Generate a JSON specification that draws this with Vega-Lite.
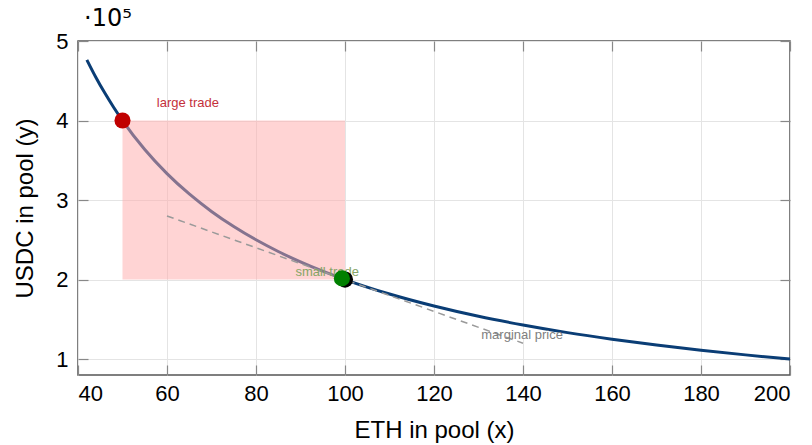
{
  "$schema": "https://vega.github.io/schema/vega-lite/v6.json",
  "width": 712,
  "height": 334,
  "autosize": {"type": "none"},
  "padding": {"left": 78, "top": 41, "right": 22, "bottom": 70},
  "title": {"text": "·10⁵", "anchor": "start", "frame": "group", "offset": -1, "dx": 6, "fontSize": 24, "font": "DejaVu Sans", "fontWeight": "normal", "color": "#000"},
  "config": {
    "view": {"stroke": "#555555", "strokeWidth": 1.5},
    "font": "Liberation Sans",
    "axis": {"labelFont": "Liberation Sans", "titleFont": "Liberation Sans", "labelFontSize": 22, "titleFontSize": 24, "titleFontWeight": "normal", "labelColor": "#000", "titleColor": "#000", "gridColor": "#e4e4e4", "gridWidth": 1, "tickColor": "#888888", "tickSize": -10, "tickWidth": 1.2, "domain": false}
  },
  "layer": [
    {
      "data": {"values": [
        {"x": 42, "y": 4.762}, {"x": 44, "y": 4.545}, {"x": 46, "y": 4.348}, {"x": 48, "y": 4.167},
        {"x": 50, "y": 4.0}, {"x": 55, "y": 3.636}, {"x": 60, "y": 3.333}, {"x": 65, "y": 3.077},
        {"x": 70, "y": 2.857}, {"x": 75, "y": 2.667}, {"x": 80, "y": 2.5}, {"x": 85, "y": 2.353},
        {"x": 90, "y": 2.222}, {"x": 95, "y": 2.105}, {"x": 100, "y": 2.0}, {"x": 110, "y": 1.818},
        {"x": 120, "y": 1.667}, {"x": 130, "y": 1.538}, {"x": 140, "y": 1.429}, {"x": 150, "y": 1.333},
        {"x": 160, "y": 1.25}, {"x": 170, "y": 1.176}, {"x": 180, "y": 1.111}, {"x": 190, "y": 1.053},
        {"x": 200, "y": 1.0}
      ]},
      "mark": {"type": "line", "color": "#0a3d75", "strokeWidth": 3, "interpolate": "monotone"},
      "encoding": {
        "x": {"field": "x", "type": "quantitative", "scale": {"domain": [40, 200], "nice": false, "zero": false},
              "axis": {"orient": "bottom", "title": "ETH in pool (x)", "values": [40, 60, 80, 100, 120, 140, 160, 180, 200], "labelPadding": 18, "titlePadding": 14}},
        "y": {"field": "y", "type": "quantitative", "scale": {"domain": [0.8, 5], "nice": false, "zero": false},
              "axis": {"orient": "left", "title": "USDC in pool (y)", "values": [1, 2, 3, 4, 5], "format": "d", "labelPadding": 20, "titlePadding": 18}}
      }
    },
    {
      "data": {"values": [{"x1": 50, "x2": 100, "y1": 2, "y2": 4}]},
      "mark": {"type": "rect", "fill": "#ffa9a9", "opacity": 0.5},
      "encoding": {
        "x": {"field": "x1", "type": "quantitative", "axis": null},
        "x2": {"field": "x2"},
        "y": {"field": "y1", "type": "quantitative", "axis": null},
        "y2": {"field": "y2"}
      }
    },
    {
      "data": {"values": [{"x": 60, "y": 2.8}, {"x": 140, "y": 1.2}]},
      "mark": {"type": "line", "color": "#9a9a9a", "strokeWidth": 1.5, "strokeDash": [7, 5]},
      "encoding": {
        "x": {"field": "x", "type": "quantitative", "axis": {"orient": "top", "labels": false, "title": null, "grid": false, "values": [40, 60, 80, 100, 120, 140, 160, 180, 200]}},
        "y": {"field": "y", "type": "quantitative", "axis": {"orient": "right", "labels": false, "title": null, "grid": false, "values": [1, 2, 3, 4, 5]}}
      }
    },
    {
      "data": {"values": [
        {"x": 64.7, "y": 4.22, "label": "large trade", "c": "#c4303a"},
        {"x": 96, "y": 2.09, "label": "small trade", "c": "#86a566"},
        {"x": 139.8, "y": 1.3, "label": "marginal price", "c": "#808080"}
      ]},
      "mark": {"type": "text", "fontSize": 13, "font": "Liberation Sans"},
      "encoding": {
        "x": {"field": "x", "type": "quantitative", "axis": null},
        "y": {"field": "y", "type": "quantitative", "axis": null},
        "text": {"field": "label"},
        "color": {"field": "c", "type": "nominal", "scale": null}
      }
    },
    {
      "data": {"values": [
        {"x": 50, "y": 4.0, "c": "#c00000"},
        {"x": 100, "y": 2.0, "c": "#000000"},
        {"x": 99.3, "y": 2.015, "c": "#008000"}
      ]},
      "mark": {"type": "circle", "size": 260, "opacity": 1},
      "encoding": {
        "x": {"field": "x", "type": "quantitative", "axis": null},
        "y": {"field": "y", "type": "quantitative", "axis": null},
        "color": {"field": "c", "type": "nominal", "scale": null}
      }
    }
  ]
}
